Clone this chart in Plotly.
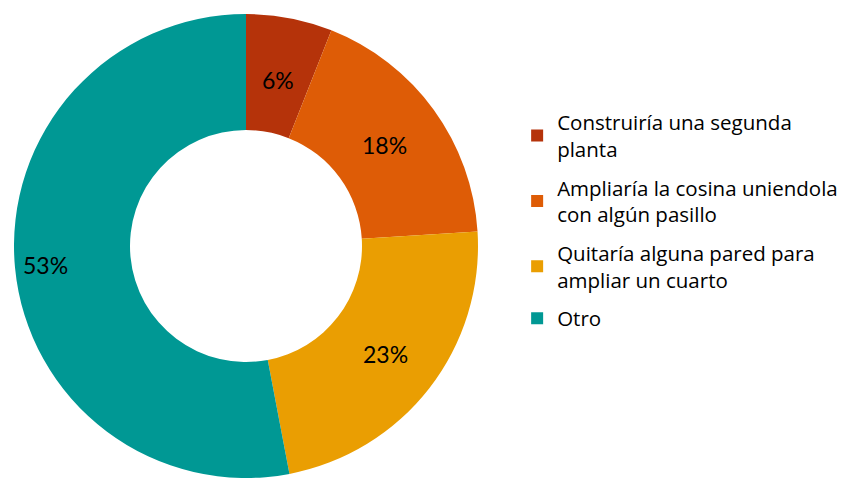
import math
import plotly.graph_objects as go

# Survey answers and their shares (%)
labels = [
    "Construiría una segunda<br>planta",
    "Ampliaría la cosina uniendola<br>con algún pasillo",
    "Quitaría alguna pared para<br>ampliar un cuarto",
    "Otro",
]
values = [6, 18, 23, 53]
colors = ["#B5330A", "#DE5C06", "#EA9E02", "#009894"]

# Ring geometry (pixels) and where each percentage sits across the ring
W, H = 845, 481
CX, CY, R_OUT = 246, 246, 232
label_radius = [0.728, 0.737, 0.763, 0.87]

fig = go.Figure()

fig.add_trace(
    go.Pie(
        labels=labels,
        values=values,
        hole=0.5,
        sort=False,
        direction="clockwise",
        rotation=0,
        marker=dict(colors=colors, line=dict(width=0)),
        textinfo="none",
        domain=dict(x=[(CX - R_OUT) / W, (CX + R_OUT) / W],
                    y=[(H - CY - R_OUT) / H, (H - CY + R_OUT) / H]),
        showlegend=False,
    )
)

# Percentage labels on each slice, placed along the slice bisector
total = sum(values)
cum = 0
for v, rf in zip(values, label_radius):
    ang = math.radians((cum + v / 2) / total * 360)
    cum += v
    r = rf * R_OUT
    px = CX + r * math.sin(ang)
    py = CY - r * math.cos(ang)
    fig.add_annotation(
        x=px / W, y=1 - py / H, xref="paper", yref="paper",
        text=f"{round(v / total * 100)}%", showarrow=False,
        xanchor="center", yanchor="middle",
        font=dict(family="Lato, Open Sans, sans-serif", size=23, color="#000000"),
    )

# Legend entries: one group per answer so the groups can be spaced apart
for i, (lab, col) in enumerate(zip(labels, colors)):
    fig.add_trace(
        go.Scatter(
            x=[None],
            y=[None],
            mode="markers",
            name=lab,
            legendgroup=f"g{i}",
            marker=dict(symbol="square", size=12, color=col),
            showlegend=True,
            hoverinfo="skip",
        )
    )

fig.update_layout(
    width=W,
    height=H,
    margin=dict(l=0, r=0, t=0, b=0),
    paper_bgcolor="white",
    plot_bgcolor="white",
    xaxis=dict(visible=False),
    yaxis=dict(visible=False),
    legend=dict(
        x=0.612,
        y=0.787,
        xanchor="left",
        yanchor="top",
        font=dict(family="Open Sans, Lato, sans-serif", size=20.5, color="#000000"),
        itemwidth=30,
        tracegroupgap=9,
        traceorder="grouped",
    ),
)

fig.write_html("out.html")
